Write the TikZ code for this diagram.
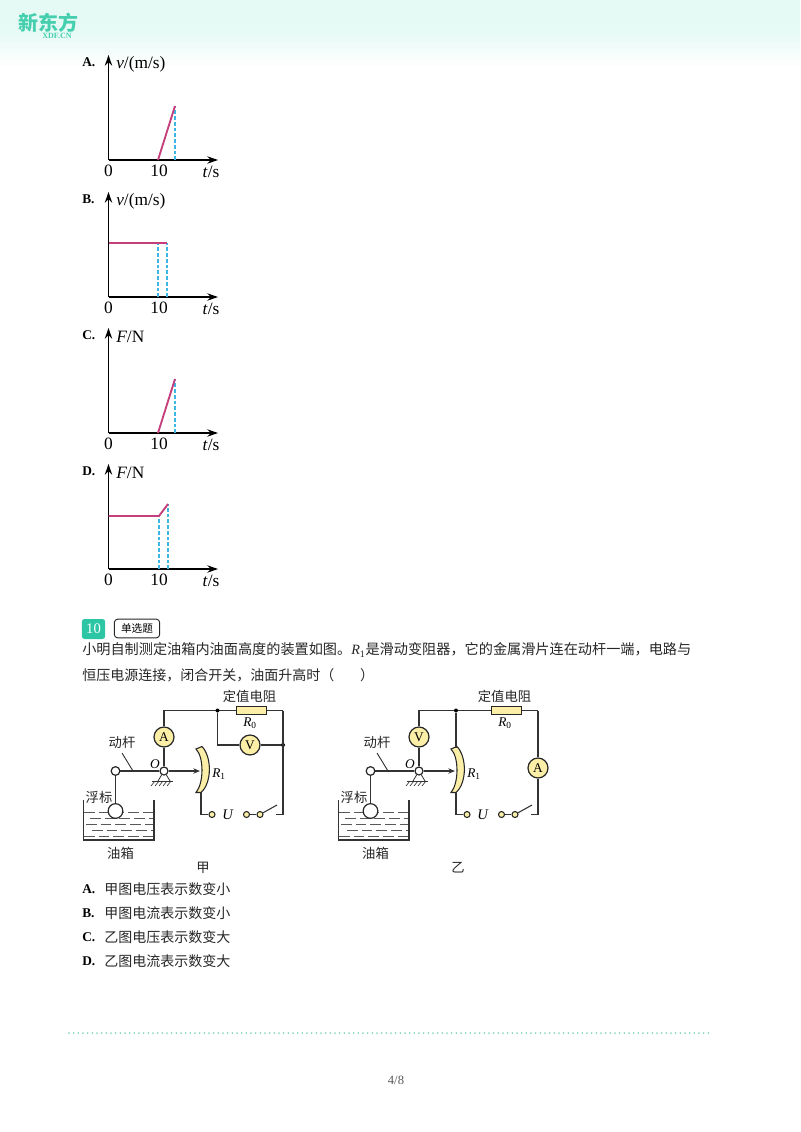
\documentclass[tikz,border=0pt]{standalone}
\usepackage{fontspec}
\usetikzlibrary{arrows.meta}
\setmainfont{Liberation Serif}
\newfontfamily\cjk{Noto Sans CJK SC}
\definecolor{headgreen}{HTML}{E6FAF5}
\definecolor{logogreen}{HTML}{45CFAE}
\definecolor{badgegreen}{HTML}{2CC6A5}
\definecolor{plotred}{HTML}{C43F7C}
\definecolor{plotblue}{HTML}{3DB6E4}
\definecolor{partyellow}{HTML}{FBEFA8}
\definecolor{dotgreen}{HTML}{86D6C2}
\newcommand{\vlab}{\textit{v}/(m/s)}
\newcommand{\flab}{\textit{F}/N}
\tikzset{
  axis/.style={-{Stealth[length=8pt,width=5.5pt]},line width=1pt},
  curveline/.style={plotred,line width=1.4pt},
  guide/.style={plotblue,dashed,dash pattern=on 2.8pt off 1.5pt,line width=0.95pt},
  plotnum/.style={font=\fontsize{13}{15}\selectfont,inner sep=0pt},
  optlab/.style={font=\bfseries\fontsize{10}{12}\selectfont,inner sep=0pt,anchor=west},
  cntext/.style={font=\cjk\fontsize{10.5}{12}\selectfont,inner sep=0pt,anchor=west,text=black!85},
  cnsmall/.style={font=\cjk\fontsize{10}{12}\selectfont,inner sep=0pt,text=black!85},
  wire/.style={line width=0.95pt,black!80},
  meter/.style={circle,draw=black!85,line width=0.9pt,fill=partyellow,minimum size=15pt,inner sep=0pt,font=\fontsize{10}{12}\selectfont},
  hinge/.style={circle,draw=black!85,line width=0.9pt,fill=white,minimum size=6pt,inner sep=0pt},
  post/.style={circle,draw=black!85,line width=0.8pt,fill=partyellow,minimum size=4.5pt,inner sep=0pt},
  joint/.style={circle,fill=black,minimum size=3pt,inner sep=0pt},
  partlab/.style={font=\fontsize{10}{12}\selectfont,inner sep=0pt},
}
\begin{document}
\begin{tikzpicture}[x=0.75pt,y=-0.75pt]
\useasboundingbox (0,0) rectangle (800,1132);
%% header
\fill[headgreen] (0,0) rectangle (800,30);
\shade[top color=headgreen,bottom color=white,draw=none] (0,30) rectangle (800,68);
\node[font=\cjk\bfseries\fontsize{15}{17}\selectfont,text=logogreen,inner sep=0pt] (logo) at (48,23) {新东方};
\node[font=\bfseries\fontsize{6}{7}\selectfont,text=logogreen,inner sep=0pt] (logosub) at (57,35.5) {XDF.CN};

%% the four plots
\foreach \nm/\oy/\ylab in {A/160/\vlab,B/297/\vlab,C/433/\flab,D/569/\flab}{
  \coordinate (\nm o) at (108.5,\oy);
  \coordinate (\nm top) at (108.5,\oy-105);
  \coordinate (\nm end) at (218,\oy);
  \draw[axis] (\nm o) -- (\nm top);
  \draw[axis] (\nm o) -- (\nm end);
  \node[optlab] (\nm opt) at (82,\oy-98) {\nm.};
  \node[plotnum,anchor=west] (\nm ylab) at (116,\oy-96) {\ylab};
  \node[plotnum] (\nm zero) at (108.5,\oy+11) {0};
  \node[plotnum] (\nm ten) at (159,\oy+11) {10};
  \node[plotnum] (\nm xlab) at (211,\oy+12) {\textit{t}/s};
}
%%% A
\coordinate (A1) at (158,160);
\coordinate (A2) at (175,106);
\coordinate (A3) at (175,160);
\draw[guide] (A3) -- (A2);
\draw[curveline] (A1) -- (A2);
%%% B
\coordinate (B1) at (108.5,243);
\coordinate (B2) at (158,243);
\coordinate (B3) at (167,243);
\coordinate (B4) at (158,297);
\coordinate (B5) at (167,297);
\draw[guide] (B4) -- (B2);
\draw[guide] (B5) -- (B3);
\draw[curveline] (B1) -- (B3);
%%% C
\coordinate (C1) at (158,433);
\coordinate (C2) at (175,379);
\coordinate (C3) at (175,433);
\draw[guide] (C3) -- (C2);
\draw[curveline] (C1) -- (C2);
%%% D
\coordinate (D1) at (108.5,516);
\coordinate (D2) at (159,516);
\coordinate (D3) at (168,504);
\coordinate (D4) at (159,569);
\coordinate (D5) at (168,569);
\draw[guide] (D4) -- (D2);
\draw[guide] (D5) -- (D3);
\draw[curveline] (D1) -- (D2) -- (D3);

%% question
\node[fill=badgegreen,rounded corners=2pt,minimum width=17.5pt,minimum height=15pt,inner sep=0pt,text=white,font=\fontsize{11}{12}\selectfont] (badge) at (93.5,629) {10};
\node[draw=black!85,line width=0.7pt,rounded corners=2.5pt,minimum width=34pt,minimum height=14pt,inner sep=0pt,font=\cjk\fontsize{8}{10}\selectfont] (kind) at (137,628.5) {单选题};
\node[cntext,font=\cjk\fontsize{10.62}{12}\selectfont] (line1) at (82,650) {小明自制测定油箱内油面高度的装置如图。\textrm{\textit{R}\textsubscript{1}}是滑动变阻器，它的金属滑片连在动杆一端，电路与};
\node[cntext] (line2) at (82,675) {恒压电源连接，闭合开关，油面升高时（\hspace{1.85em}）};

%% the two circuits
\foreach \dx/\nm/\mt/\cp in {0/a/A/甲,255/b/V/乙}{
\begin{scope}[xshift={\dx*0.75pt}]
  %%% tank
  \coordinate (\nm tl) at (83.5,800);
  \coordinate (\nm bl) at (83.5,840);
  \coordinate (\nm br) at (154,840);
  \coordinate (\nm tr) at (154,800);
  \draw[line width=1pt,black!80] (\nm tl) -- (\nm bl) -- (\nm br) -- (\nm tr);
  \foreach \wy/\wx in {812/84,818/90,824/86,830/92,836/84}{
    \draw[black!65,line width=0.6pt,dash pattern=on 8pt off 3pt] (\wx,\wy) -- (153,\wy);
  }
  %%% nodes
  \node[meter] (\nm meter) at (164,737) {\mt};
  \node[hinge,minimum size=6.5pt] (\nm float) at (115.5,771) {};
  \node[hinge] (\nm pivot) at (164,771) {};
  \node[circle,draw=black!85,line width=0.9pt,fill=white,minimum size=11pt,inner sep=0pt] (\nm ball) at (115.5,811) {};
  \node[draw=black!85,line width=0.9pt,fill=partyellow,minimum width=22pt,minimum height=6pt,inner sep=0pt] (\nm rzero) at (251.5,710.5) {};
  \node[post] (\nm termu) at (212,814.5) {};
  \node[post] (\nm terma) at (246.5,814.5) {};
  \node[post] (\nm termb) at (260,814.5) {};
  %%% lever
  \coordinate (\nm tip) at (200,771);
  \coordinate (\nm footl) at (158,781);
  \coordinate (\nm footr) at (170,781);
  \coordinate (\nm groundl) at (152,781);
  \coordinate (\nm groundr) at (173,781);
  \draw[wire,line width=1.1pt] (\nm float) -- (\nm pivot);
  \draw[wire,-{Stealth[length=5pt,width=4pt]}] (\nm pivot) -- (\nm tip);
  \draw[wire] (\nm float) -- (\nm ball);
  \draw[wire,line width=0.6pt] (\nm pivot) -- (\nm footl) (\nm pivot) -- (\nm footr);
  \draw[wire,line width=0.6pt] (\nm groundl) -- (\nm groundr);
  \foreach \hx in {155,159,163,167,171}{
    \draw[wire,line width=0.5pt] (\hx,781) -- (\hx-4,786);
  }
  \coordinate (\nm pole) at (122,753);
  \coordinate (\nm polefoot) at (133,771);
  \draw[wire,line width=0.7pt] (\nm pole) -- (\nm polefoot);
  %%% sliding resistor
  \coordinate (\nm rtop) at (196,749);
  \coordinate (\nm rbot) at (196,792.5);
  \coordinate (\nm rleg) at (201,792.5);
  \coordinate (\nm rcorner) at (201,814.5);
  \fill[partyellow,draw=black!85,line width=0.8pt] (\nm rtop) .. controls (204,757) and (204,783) .. (\nm rbot)
    -- (\nm rleg) .. controls (212,783) and (212,757) .. (202,746.5) -- cycle;
  \draw[wire] (\nm rleg) -- (\nm rcorner) -- (\nm termu);
  %%% switch
  \coordinate (\nm blade) at (277,805);
  \coordinate (\nm swend) at (276,814.5);
  \draw[wire] (\nm terma) -- (\nm termb);
  \draw[wire,line width=0.8pt] (\nm termb) -- (\nm blade);
  %%% wires on top
  \coordinate (\nm corner) at (164,710.5);
  \coordinate (\nm right) at (283,710.5);
  \coordinate (\nm rightlow) at (283,814.5);
  \draw[wire] (\nm pivot) -- (\nm meter);
  \draw[wire] (\nm meter) -- (\nm corner) -- (\nm rzero);
  \draw[wire] (\nm rzero) -- (\nm right);
  \draw[wire] (\nm swend) -- (\nm rightlow);
  %%% labels
  \node[cnsmall] (\nm rodlab) at (122,742) {动杆};
  \node[cnsmall] (\nm floatlab) at (99,797) {浮标};
  \node[cnsmall] (\nm tanklab) at (120.5,853) {油箱};
  \node[cnsmall] (\nm fixlab) at (249.5,696) {定值电阻};
  \node[cnsmall] (\nm cap) at (203,868) {\cp};
  \node[partlab] (\nm olab) at (155,764) {\textit{O}};
  \node[partlab] (\nm rlab) at (219,774) {\textit{R}\textsubscript{1}};
  \node[partlab] (\nm rzlab) at (250,723) {\textit{R}\textsubscript{0}};
  \node[partlab,font=\fontsize{11}{12}\selectfont] (\nm ulab) at (228,815) {\textit{U}};
\end{scope}
}
%%% left circuit: voltmeter across the fixed resistor
\node[joint] (ajoin) at (217.5,710.5) {};
\node[joint] (ajoinr) at (283,745) {};
\node[meter] (avolt) at (250,745) {V};
\coordinate (avc) at (217.5,745);
\draw[wire] (ajoin) -- (avc) -- (avolt);
\draw[wire] (avolt) -- (ajoinr);
\draw[wire] (aright) -- (arightlow);
%%% right circuit: ammeter in the right branch
\node[joint] (bjoin) at (456,710.5) {};
\node[meter] (bamp) at (538,768) {A};
\coordinate (brtopend) at (456,748);
\draw[wire] (bjoin) -- (brtopend);
\draw[wire] (bright) -- (bamp);
\draw[wire] (bamp) -- (brightlow);

%% options
\foreach \lab/\oy/\tx in {A/889/甲图电压表示数变小,B/913/甲图电流表示数变小,C/937/乙图电压表示数变大,D/961/乙图电流表示数变大}{
  \node[optlab] (opt\lab) at (82,\oy) {\lab.};
  \node[cntext] (txt\lab) at (104,\oy) {\tx};
}

%% footer
\coordinate (dotl) at (69,1033);
\coordinate (dotr) at (710,1033);
\draw[dotgreen,line width=1.5pt,line cap=round,dash pattern=on 0pt off 3.5pt] (dotl) -- (dotr);
\node[font=\fontsize{9.5}{11}\selectfont,text=black!65,inner sep=0pt] (pageno) at (396,1080) {4/8};
\end{tikzpicture}
\end{document}
